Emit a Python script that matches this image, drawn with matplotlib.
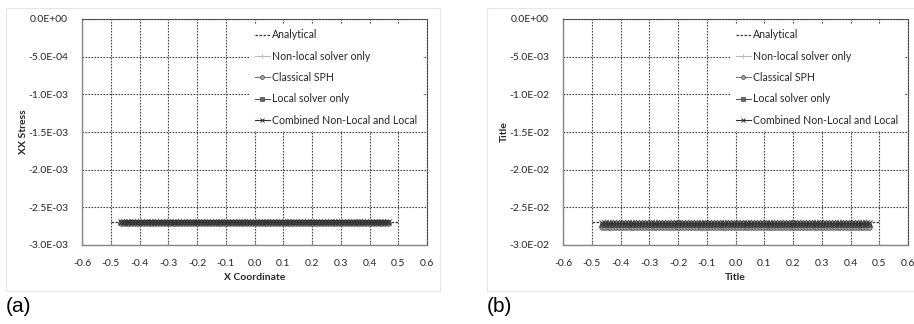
import matplotlib
matplotlib.use("Agg")
import matplotlib.pyplot as plt
from matplotlib.patches import Rectangle
import numpy as np

plt.rcParams['font.family'] = ['Lato', 'DejaVu Sans']

# particle x coordinates (-0.465 .. 0.465, spacing ~0.01)
x_coords = [-0.465, -0.455, -0.445, -0.435, -0.425, -0.415, -0.405, -0.395, -0.385, -0.375,
            -0.365, -0.355, -0.345, -0.335, -0.325, -0.315, -0.305, -0.295, -0.285, -0.275,
            -0.265, -0.255, -0.245, -0.235, -0.225, -0.215, -0.205, -0.195, -0.185, -0.175,
            -0.165, -0.155, -0.145, -0.135, -0.125, -0.115, -0.105, -0.095, -0.085, -0.075,
            -0.065, -0.055, -0.045, -0.035, -0.025, -0.015, -0.005, 0.005, 0.015, 0.025,
            0.035, 0.045, 0.055, 0.065, 0.075, 0.085, 0.095, 0.105, 0.115, 0.125,
            0.135, 0.145, 0.155, 0.165, 0.175, 0.185, 0.195, 0.205, 0.215, 0.225,
            0.235, 0.245, 0.255, 0.265, 0.275, 0.285, 0.295, 0.305, 0.315, 0.325,
            0.335, 0.345, 0.355, 0.365, 0.375, 0.385, 0.395, 0.405, 0.415, 0.425,
            0.435, 0.445, 0.455, 0.465]

analytical_x = [-0.5, 0.5]

# panel (a): XX stress
a_analytical = -2.70e-3
a_nonlocal = -2.70e-3
a_classical = -2.71e-3
a_local = -2.70e-3
a_combined = -2.70e-3

# panel (b)
b_analytical = -2.70e-2
b_nonlocal = -2.70e-2
b_classical = -2.76e-2
b_local = -2.74e-2
b_combined = -2.71e-2

series_names = ["Analytical", "Non-local solver only", "Classical SPH",
                "Local solver only", "Combined Non-Local and Local"]

x_ticks = [-0.6, -0.5, -0.4, -0.3, -0.2, -0.1, 0.0, 0.1, 0.2, 0.3, 0.4, 0.5, 0.6]
a_yticks = [0.0, -5.0e-4, -1.0e-3, -1.5e-3, -2.0e-3, -2.5e-3, -3.0e-3]
a_yticklabels = ["0.0E+00", "-5.0E-04", "-1.0E-03", "-1.5E-03", "-2.0E-03", "-2.5E-03", "-3.0E-03"]
b_yticks = [0.0, -5.0e-3, -1.0e-2, -1.5e-2, -2.0e-2, -2.5e-2, -3.0e-2]
b_yticklabels = ["0.0E+00", "-5.0E-03", "-1.0E-02", "-1.5E-02", "-2.0E-02", "-2.5E-02", "-3.0E-02"]

fig = plt.figure(figsize=(9.14, 3.24), dpi=100)

# outer chart boxes
fig.patches.append(Rectangle((6/914, 1-291/324), (440-6)/914, (291-8)/324,
                             transform=fig.transFigure, facecolor='white',
                             edgecolor='#e6e6e6', lw=0.8, zorder=-5))
fig.patches.append(Rectangle((487/914, 1-291/324), (930-487)/914, (291-8)/324,
                             transform=fig.transFigure, facecolor='white',
                             edgecolor='#e6e6e6', lw=0.8, zorder=-5))


def panel(rect, vals, yticks, yticklabels, ylim, xlabel, ylabel):
    ax = fig.add_axes(rect)
    ax.set_zorder(1)
    ax.patch.set_alpha(0)
    ana, nl, cl, lo, co = vals
    n = len(x_coords)
    ax.plot(analytical_x, [ana, ana], ls=(0, (2, 1.2)), color='#333333', lw=0.9,
            label=series_names[0], zorder=3)
    ax.plot(x_coords, np.full(n, nl), color='#bbbbbb', lw=0.8, marker='+', ms=4.5,
            mew=0.7, label=series_names[1], zorder=4)
    ax.plot(x_coords, np.full(n, cl), color='#777777', lw=0.8, marker='o', ms=4,
            mfc='#aaaaaa', mec='#555555', mew=0.6, label=series_names[2], zorder=4)
    ax.plot(x_coords, np.full(n, lo), color='#555555', lw=0.8, marker='s', ms=3.4,
            mfc='#666666', mec='#444444', mew=0.5, label=series_names[3], zorder=4)
    ax.plot(x_coords, np.full(n, co), color='#333333', lw=0.8, marker='x', ms=4,
            mew=0.7, label=series_names[4], zorder=5)
    ax.set_xlim(-0.6, 0.6)
    ax.set_ylim(*ylim)
    ax.set_xticks(x_ticks)
    ax.set_xticklabels(["%.1f" % v for v in x_ticks])
    ax.set_yticks(yticks)
    ax.set_yticklabels(yticklabels)
    ax.grid(True, ls=(0, (1.5, 1.2)), color='#444444', lw=0.8)
    ax.set_axisbelow(True)
    for s in ['top', 'right']:
        ax.spines[s].set_linestyle((0, (1.5, 1.2)))
        ax.spines[s].set_color('#444444')
        ax.spines[s].set_linewidth(0.8)
    for s in ['left', 'bottom']:
        ax.spines[s].set_color('#888888')
        ax.spines[s].set_linewidth(1.0)
    ax.tick_params(axis='both', labelsize=7.5, colors='#262626', length=0)
    ax.tick_params(axis='y', pad=10)
    ax.tick_params(axis='x', direction='in', length=2.5, color='#888888', pad=10)
    ax.set_xlabel(xlabel, fontsize=7.5, fontweight='bold', labelpad=4, color='#262626')
    ax.set_ylabel(ylabel, fontsize=7.5, fontweight='bold', labelpad=0, color='#262626')
    leg = ax.legend(loc='upper right', bbox_to_anchor=(0.988, 0.978), fontsize=7.6,
                    frameon=True, framealpha=1, edgecolor='none', fancybox=False,
                    handlelength=1.5, handletextpad=0.2, labelspacing=0.98,
                    borderpad=0.5, borderaxespad=0.0, markerscale=0.7)
    for t in leg.get_texts():
        t.set_color('#262626')
    leg.set_zorder(10)
    return ax


panel([82/914, 1-245/324, 345/914, 226/324],
      (a_analytical, a_nonlocal, a_classical, a_local, a_combined),
      a_yticks, a_yticklabels, (-3.0e-3, 0.0), "X Coordinate", "XX Stress")
panel([563/914, 1-245/324, 345/914, 226/324],
      (b_analytical, b_nonlocal, b_classical, b_local, b_combined),
      b_yticks, b_yticklabels, (-3.0e-2, 0.0), "Title", "Title")

fig.text(6/914, 1-306/324, "(a)", fontsize=15, family=['Liberation Sans', 'DejaVu Sans'],
         va='center', ha='left')
fig.text(487/914, 1-306/324, "(b)", fontsize=15, family=['Liberation Sans', 'DejaVu Sans'],
         va='center', ha='left')

fig.savefig("out.png", dpi=100, facecolor='white')
